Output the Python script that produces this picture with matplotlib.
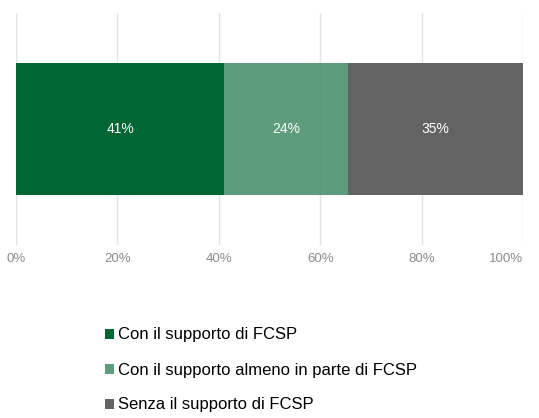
import matplotlib
matplotlib.use("Agg")
import matplotlib.pyplot as plt
from matplotlib.patches import Patch

plt.rcParams['font.family'] = ['Liberation Sans', 'DejaVu Sans']

# Data
categories = ["Con il supporto di FCSP",
              "Con il supporto almeno in parte di FCSP",
              "Senza il supporto di FCSP"]
values = [41.1, 24.4, 34.5]
value_labels = ["41%", "24%", "35%"]
colors = ["#006633", "#3f8c66", "#636363"]
alphas = [1.0, 0.85, 1.0]
x_ticks = [0, 20, 40, 60, 80, 100]
x_tick_labels = ["0%", "20%", "40%", "60%", "80%", "100%"]

fig = plt.figure(figsize=(5.39, 4.18), dpi=100)
ax = fig.add_axes([16/539, 1 - 245/418, (523 - 16)/539, (245 - 13)/418])

left = 0
for val, lab, col, a in zip(values, value_labels, colors, alphas):
    ax.barh(0, val, left=left, height=0.573, color=col, alpha=a, zorder=2)
    ax.text(left + val/2, 0, lab, ha='center', va='center', color='white',
            fontsize=10, zorder=3)
    left += val

ax.set_xlim(0, 100)
ax.set_ylim(-0.5, 0.5)
ax.set_xticks(x_ticks)
ax.set_xticklabels(x_tick_labels)
ax.set_yticks([])
ax.tick_params(axis='x', length=0, pad=6, labelsize=9.5, labelcolor='#8c8c8c')
# keep the last label inside the picture
ax.get_xticklabels()[-1].set_horizontalalignment('right')
ax.get_xticklabels()[-1].set_x(100)
ax.grid(axis='x', color='#e3e3e3', linewidth=1, zorder=0)
for s in ax.spines.values():
    s.set_visible(False)

handles = [Patch(facecolor=c, alpha=a, edgecolor='none') for c, a in zip(colors, alphas)]
fig.legend(handles, categories, loc='center left', bbox_to_anchor=(105/539, 1 - 370/418),
           frameon=False, fontsize=12, handlelength=0.55, handleheight=0.55,
           handletextpad=0.25, labelspacing=1.2, borderpad=0, borderaxespad=0)

fig.savefig("out.png", dpi=100)
